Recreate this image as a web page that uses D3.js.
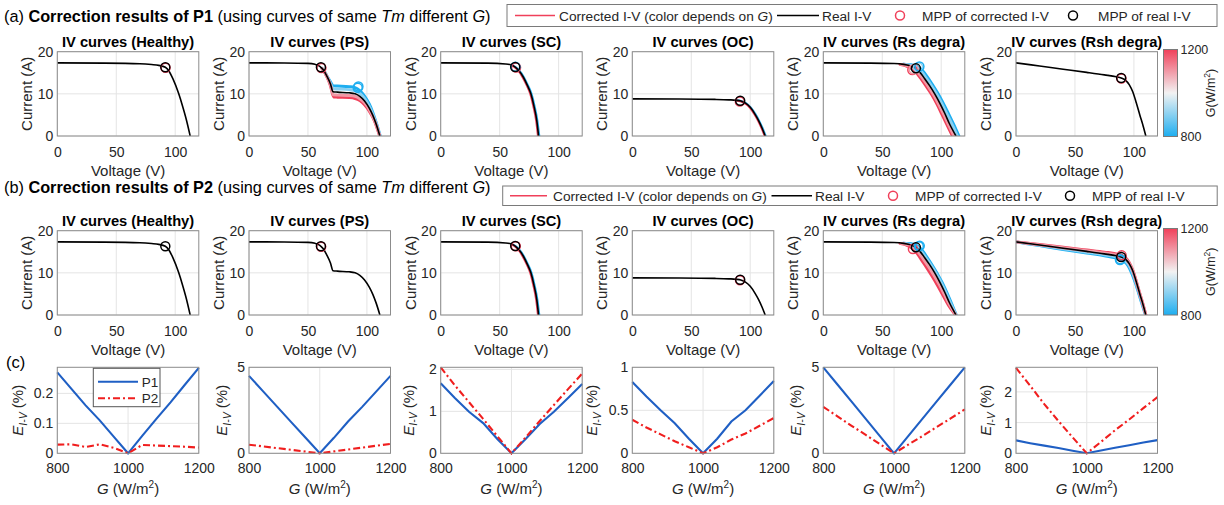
<!DOCTYPE html>
<html><head><meta charset="utf-8">
<script src="https://cdn.jsdelivr.net/npm/d3@7"></script>
<style>
body{margin:0;background:#fff;}
svg{display:block;font-family:"Liberation Sans",Arial,Helvetica,sans-serif;}
text{white-space:pre;}
</style></head><body>
<svg id="c" width="1224" height="505"></svg>
<script>
// ---------------- DATA ----------------
const voltTicks = [0, 50, 100];
const curTicks = [0, 10, 20];
const gTicks = [800, 1000, 1200];
const cbTicks = [800, 1200];
const faults = ["Healthy", "PS", "SC", "OC", "Rs degra", "Rsh degra"];

// real I-V curves [V, I]
const realHealthy = [[0,17.35],[40,17.3],[70,17.15],[80,16.95],[86,16.75],[91.6,16.3],[94.5,15.5],[98,13.6],[103,10],[106,7.3],[109.5,3.8],[112.7,0]];
const realPS = [[0,17.35],[30,17.32],[50,17.22],[56,17.0],[59,16.7],[61,16.3],[63,15.7],[66,14.2],[69,12.4],[71.3,10.5],[75,10.4],[85,10.25],[90,10.0],[94,9.4],[98,8.3],[102,6.6],[105,4.9],[108,2.7],[111,0]];
const realSC = [[0,17.35],[40,17.3],[55,17.1],[60,16.85],[63.2,16.35],[66,15.6],[70,14.0],[73.5,12.0],[76.5,10],[79,7.2],[81.5,3.6],[83,0]];
const realOC = [[0,8.8],[40,8.77],[70,8.68],[82,8.58],[88,8.48],[92,8.3],[96,7.8],[100,6.8],[104,5.2],[107,3.7],[110,1.9],[112.7,0]];
const realRs = [[0,17.35],[40,17.3],[60,17.2],[68,17.0],[73,16.7],[78.5,16.05],[82,15.1],[86,13.6],[90,12.0],[94.5,10],[99,7.7],[103,5.4],[107,2.9],[112.5,0]];
const realRsh = [[0,17.35],[20,16.6],[40,15.85],[60,15.1],[75,14.5],[85,14.05],[89.2,13.75],[93,13.2],[96,12.2],[99,10.5],[102,7.9],[105,5.0],[108,2.2],[110.1,0]];

// corrected I-V curves (P1) at several G (only where they leave the real curve)
const psA800 = [[62,16.05],[64,15.3],[66,14.3],[69,12.9],[71.5,11.9],[75,11.85],[85,11.7],[90,11.5],[94,10.8],[98,9.5],[102,7.6],[105,5.6],[108,3.1],[111.3,0]];
const psA900 = [[62,16.05],[64,15.3],[66,14.25],[69,12.6],[71.4,11.2],[75,11.15],[85,11.0],[90,10.75],[94,10.1],[98,8.9],[102,7.1],[105,5.2],[108,2.9],[111.2,0]];
const psA1100 = [[62,16.0],[64,15.2],[66,14.15],[69,12.2],[71.6,9.75],[75,9.7],[85,9.6],[90,9.4],[94,8.85],[98,7.85],[102,6.25],[105,4.6],[108,2.55],[110.9,0]];
const psA1200 = [[62,15.95],[64,15.15],[66,14.1],[69,12.0],[71.8,9.25],[75,9.2],[85,9.1],[90,8.9],[94,8.4],[98,7.4],[102,5.9],[105,4.4],[108,2.4],[110.8,0]];
const scA800 = [[60,16.87],[63.5,16.35],[66.4,15.6],[70.4,14.0],[74,12.0],[77,10],[79.5,7.2],[82,3.6],[83.6,0]];
const scA1200 = [[60,16.8],[63,16.25],[65.8,15.5],[69.6,13.9],[73,12.0],[76,10],[78.5,7.2],[81,3.6],[82.5,0]];
const ocA800 = [[88,8.5],[92.3,8.32],[96.3,7.82],[100.4,6.8],[104.4,5.2],[107.4,3.7],[110.4,1.9],[113.1,0]];
const ocA1200 = [[88,8.42],[91.7,8.22],[95.6,7.72],[99.6,6.75],[103.6,5.15],[106.6,3.65],[109.6,1.85],[112.3,0]];
const rsA800 = [[68,17.05],[72,16.98],[76,16.8],[81,16.3],[84.5,15.4],[88.5,13.9],[92.5,12.2],[97,10.2],[101.5,7.9],[106,5.4],[110.5,2.8],[115,0]];
const rsA900 = [[68,17.02],[71,16.95],[74.5,16.75],[79.8,16.2],[83.3,15.25],[87.3,13.75],[91.3,12.1],[95.8,10.1],[100.3,7.8],[104.5,5.4],[109,2.85],[113.7,0]];
const rsA1100 = [[66,17.0],[69,16.85],[72,16.6],[77.2,15.9],[80.8,14.9],[84.8,13.4],[88.8,11.8],[93.2,9.9],[97.7,7.6],[101.8,5.3],[105.8,2.9],[110.8,0]];
const rsA1200 = [[65,16.98],[68,16.8],[71,16.5],[76,15.8],[79.5,14.8],[83.5,13.3],[87.5,11.7],[92,9.8],[96.5,7.5],[100.5,5.2],[104.5,2.9],[109.5,0]];

// corrected I-V curves (P2)
const rsB800 = [[68,17.05],[72,16.97],[76,16.8],[80.5,16.3],[84,15.3],[88,13.7],[92,12.0],[96.5,9.9],[101,7.6],[105,5.2],[109,2.6],[112.8,0]];
const rsB900 = [[68,17.02],[71,16.93],[74.5,16.72],[79.5,16.15],[83,15.15],[87,13.6],[91,11.95],[95.5,9.95],[100,7.65],[104,5.3],[108,2.75],[112.7,0]];
const rsB1100 = [[66,17.0],[69,16.85],[72.5,16.55],[77.5,15.8],[81,14.75],[85,13.2],[89,11.55],[93.5,9.55],[98.5,7.15],[102.5,4.95],[107,2.45],[112.4,0]];
const rsB1200 = [[65,16.98],[68,16.8],[71,16.5],[76,15.7],[79.5,14.6],[83.5,12.95],[87.5,11.3],[92,9.3],[97,6.95],[101,4.9],[106,2.4],[112.1,0]];
const rshB800 = [[0,17.35],[20,16.45],[40,15.55],[60,14.7],[75,14.05],[85,13.5],[88.5,13.2],[92,12.65],[95,11.7],[98,10.0],[101.5,7.4],[104.5,4.7],[107.5,2.0],[109.8,0]];
const rshB900 = [[0,17.35],[20,16.52],[40,15.7],[60,14.9],[75,14.28],[85,13.78],[88.8,13.45],[92.5,12.9],[95.5,11.9],[98.5,10.2],[101.8,7.6],[104.8,4.8],[107.8,2.1],[110,0]];
const rshB1100 = [[0,17.35],[20,16.65],[40,15.95],[60,15.25],[75,14.7],[85,14.28],[89.3,13.95],[93,13.35],[96,12.3],[99,10.55],[102,7.95],[105,5.05],[108,2.25],[110.1,0]];
const rshB1200 = [[0,17.35],[20,16.72],[40,16.08],[60,15.42],[75,14.92],[85,14.52],[89.5,14.18],[93,13.55],[96,12.45],[99,10.65],[102,8.05],[105,5.1],[108,2.3],[110.2,0]];

// maximum power points [V, I] and corrected MPPs [V, I, G]
const mppReal = [[91.6,16.3],[61,16.3],[63.2,16.35],[91.5,8.35],[78.5,16.05],[89.2,13.75]];
const mppCorrA = [[[91.8,16.2,1200]],[[61.4,16.15,1200],[92.2,11.45,800],[92.8,11.75,800]],[[63.9,16.25,1200],[63.4,16.4,800]],[[91.2,8.2,1200]],[[75.5,15.65,1200],[76.6,15.85,1100],[80.4,16.3,900],[81.5,16.5,800]],[[89.4,13.65,1200]]];
const mppCorrB = [[],[[61.2,16.2,1200]],[[63.7,16.3,1200]],[[91.3,8.25,1200]],[[76,15.65,1200],[81,16.3,800],[81.8,16.4,800]],[[88.5,13.25,800],[88.2,13.05,800],[89.6,14.15,1200]]];

// error of corrected I-V vs G (%)
const gGrid = [800,840,880,920,960,1000,1040,1080,1120,1160,1200];
const errP1 = [
  [0.27,0.215,0.16,0.11,0.055,0,0.058,0.115,0.17,0.228,0.285],
  [4.5,3.6,2.7,1.8,0.9,0,0.9,1.85,2.7,3.6,4.5],
  [1.67,1.32,0.99,0.72,0.34,0,0.34,0.7,0.99,1.32,1.65],
  [0.83,0.66,0.5,0.35,0.17,0,0.17,0.37,0.5,0.67,0.84],
  [5.0,4.0,3.0,2.0,1.0,0,1.0,2.0,3.0,4.0,5.0],
  [0.42,0.33,0.25,0.17,0.08,0,0.09,0.18,0.26,0.35,0.43]
];
const errP2 = [
  [0.029,0.03,0.021,0.03,0.018,0,0.028,0.026,0.024,0.022,0.019],
  [0.5,0.4,0.3,0.2,0.1,0,0.11,0.22,0.33,0.44,0.55],
  [2.05,1.62,1.22,0.82,0.41,0,0.38,0.77,1.15,1.53,1.9],
  [0.39,0.3,0.22,0.14,0.07,0,0.07,0.16,0.23,0.32,0.41],
  [2.7,2.15,1.6,1.07,0.53,0,0.5,1.0,1.52,2.03,2.55],
  [2.78,2.2,1.6,1.05,0.52,0,0.37,0.75,1.1,1.47,1.83]
];
const eTicks = [[0,0.1,0.2],[0,5],[0,1,2],[0,0.5,1],[0,5],[0,1,2]];
const eMax = [0.287,5,2.05,1,5,2.8];

// ---------------- DRAWING ----------------
const svg = d3.select("#c");
const TXT = "#262626", FRAME = "#8c8c8c", GRID = "#e4e4e4";
const colX = [57.3, 249, 440.7, 632.3, 823.3, 1016], PW = 141.5;
const gColor = d3.scaleLinear().domain([800,1000,1200]).range(["#1eaef0","#f2f2f2","#f0405a"]);
const RED = "#f0405a";
const fmtInt = d3.format("d");

const realCurves = [realHealthy, realPS, realSC, realOC, realRs, realRsh];
const corrA = [[], [[800,psA800],[900,psA900],[1200,psA1200],[1100,psA1100]], [[800,scA800],[1200,scA1200]], [[800,ocA800],[1200,ocA1200]], [[800,rsA800],[900,rsA900],[1200,rsA1200],[1100,rsA1100]], []];
const corrB = [[], [], [[800,scA800],[1200,scA1200]], [], [[800,rsB800],[900,rsB900],[1200,rsB1200],[1100,rsB1100]], [[800,rshB800],[900,rshB900],[1200,rshB1200],[1100,rshB1100]]];

function styleAxis(g, size) {
  g.attr("font-size", size).attr("font-family", null);
  g.select(".domain").remove();
  g.selectAll("text").attr("fill", TXT);
}

function ivPanel(top, H, i, corr, mppC) {
  const x0 = colX[i];
  const x = d3.scaleLinear().domain([0,120]).range([x0, x0 + PW]);
  const y = d3.scaleLinear().domain([0,20]).range([top + H, top]);
  const g = svg.append("g");
  const clipId = `clip${Math.round(top)}_${i}`;
  svg.append("clipPath").attr("id", clipId).append("rect")
    .attr("x", x0).attr("y", top).attr("width", PW).attr("height", H);
  g.append("rect").attr("x", x0).attr("y", top).attr("width", PW).attr("height", H).attr("fill", "#fff");
  g.append("g").selectAll("line").data(voltTicks).join("line")
    .attr("x1", d => x(d)).attr("x2", d => x(d)).attr("y1", top).attr("y2", top + H)
    .attr("stroke", GRID);
  g.append("g").selectAll("line").data(curTicks).join("line")
    .attr("y1", d => y(d)).attr("y2", d => y(d)).attr("x1", x0).attr("x2", x0 + PW)
    .attr("stroke", GRID);
  const line = d3.line().x(d => x(d[0])).y(d => y(d[1])).curve(d3.curveMonotoneX);
  const plot = g.append("g").attr("clip-path", `url(#${clipId})`);
  corr.forEach(([gv, pts]) => {
    plot.append("path").attr("d", line(pts)).attr("fill", "none")
      .attr("stroke", gColor(gv)).attr("stroke-width", corr.length > 2 ? 2.9 : 2.1)
      .attr("stroke-linejoin", "round").attr("stroke-linecap", "round");
  });
  plot.append("path").attr("d", line(realCurves[i])).attr("fill", "none")
    .attr("stroke", "#000").attr("stroke-width", 1.6);
  mppC.forEach(m => {
    g.append("circle").attr("cx", x(m[0])).attr("cy", y(m[1])).attr("r", 4.5)
      .attr("fill", "none").attr("stroke", gColor(m[2])).attr("stroke-width", 1.5);
  });
  g.append("circle").attr("cx", x(mppReal[i][0])).attr("cy", y(mppReal[i][1])).attr("r", 4.5)
    .attr("fill", "none").attr("stroke", "#000").attr("stroke-width", 1.5);
  g.append("rect").attr("x", x0).attr("y", top).attr("width", PW).attr("height", H)
    .attr("fill", "none").attr("stroke", FRAME);
  const ax = g.append("g").attr("transform", `translate(0,${top + H})`)
    .call(d3.axisBottom(x).tickValues(voltTicks).tickFormat(fmtInt).tickSize(0).tickPadding(11));
  styleAxis(ax, 14);
  const ay = g.append("g").attr("transform", `translate(${x0},0)`)
    .call(d3.axisLeft(y).tickValues(curTicks).tickFormat(fmtInt).tickSize(0).tickPadding(4));
  styleAxis(ay, 14);
  g.append("text").attr("x", x0 + PW / 2).attr("y", top + H + 39.5).attr("text-anchor", "middle")
    .attr("font-size", 15).attr("fill", TXT).text("Voltage (V)");
  g.append("text").attr("transform", `translate(${x0 - 25},${top + H / 2}) rotate(-90)`)
    .attr("text-anchor", "middle").attr("font-size", 15).attr("fill", TXT).text("Current (A)");
  g.append("text").attr("x", x0 + PW / 2).attr("y", top - 4.7).attr("text-anchor", "middle")
    .attr("font-size", 14.7).attr("font-weight", "bold").attr("fill", "#000")
    .text(`IV curves (${faults[i]})`);
}

function header(yb, label, pName) {
  const t = svg.append("text").attr("x", 4).attr("y", yb).attr("font-size", 16.3).attr("fill", "#000");
  t.append("tspan").text(`(${label}) `);
  t.append("tspan").attr("font-weight", "bold").text(`Correction results of ${pName}`);
  t.append("tspan").text(" (using curves of same ");
  t.append("tspan").attr("font-style", "italic").text("Tm");
  t.append("tspan").text(" different ");
  t.append("tspan").attr("font-style", "italic").text("G");
  t.append("tspan").text(")");
}

function topLegend(L) {
  svg.append("rect").attr("x", L.x).attr("y", L.y).attr("width", L.w).attr("height", L.h)
    .attr("fill", "#fff").attr("stroke", "#7a7a7a");
  const cy = L.y + L.h / 2, tb = cy + 5, fs = 13.7;
  svg.append("line").attr("x1", L.l1[0]).attr("x2", L.l1[1]).attr("y1", cy).attr("y2", cy)
    .attr("stroke", RED).attr("stroke-width", 1.5);
  const t1 = svg.append("text").attr("x", L.t1).attr("y", tb).attr("font-size", fs).attr("fill", TXT);
  t1.append("tspan").text("Corrected I-V (color depends on ");
  t1.append("tspan").attr("font-style", "italic").text("G");
  t1.append("tspan").text(")");
  svg.append("line").attr("x1", L.l2[0]).attr("x2", L.l2[1]).attr("y1", cy).attr("y2", cy)
    .attr("stroke", "#000").attr("stroke-width", 1.5);
  svg.append("text").attr("x", L.t2).attr("y", tb).attr("font-size", fs).attr("fill", TXT).text("Real I-V");
  svg.append("circle").attr("cx", L.m1).attr("cy", cy).attr("r", 4.5).attr("fill", "none")
    .attr("stroke", RED).attr("stroke-width", 1.5);
  svg.append("text").attr("x", L.t3).attr("y", tb).attr("font-size", fs).attr("fill", TXT).text("MPP of corrected I-V");
  svg.append("circle").attr("cx", L.m2).attr("cy", cy).attr("r", 4.5).attr("fill", "none")
    .attr("stroke", "#000").attr("stroke-width", 1.5);
  svg.append("text").attr("x", L.t4).attr("y", tb).attr("font-size", fs).attr("fill", TXT).text("MPP of real I-V");
}

// gradient for colorbar
const defs = svg.append("defs");
const grad = defs.append("linearGradient").attr("id", "cbGrad")
  .attr("x1", 0).attr("y1", 1).attr("x2", 0).attr("y2", 0);
gTicks.forEach((gv, k) => grad.append("stop").attr("offset", k / (gTicks.length - 1)).attr("stop-color", gColor(gv)));

function colorbar(top, bottom) {
  const x0 = 1163.5, w = 14;
  const s = d3.scaleLinear().domain([800, 1200]).range([bottom, top]);
  svg.append("rect").attr("x", x0).attr("y", top).attr("width", w).attr("height", bottom - top)
    .attr("fill", "url(#cbGrad)").attr("stroke", "#7a7a7a");
  const ax = svg.append("g").attr("transform", `translate(${x0 + w},0)`)
    .call(d3.axisRight(s).tickValues(cbTicks).tickFormat(fmtInt).tickSize(0).tickPadding(3));
  styleAxis(ax, 12.5);
  const t = svg.append("text").attr("transform", `translate(${1214.5},${(top + bottom) / 2}) rotate(-90)`)
    .attr("text-anchor", "middle").attr("font-size", 12.5).attr("fill", TXT);
  t.append("tspan").text("G(W/m");
  t.append("tspan").attr("font-size", 8.5).attr("dy", -5).text("2");
  t.append("tspan").attr("dy", 5).text(")");
}

function errPanel(i) {
  const top = 367.3, H = 86, x0 = colX[i];
  const x = d3.scaleLinear().domain([800, 1200]).range([x0, x0 + PW]);
  const y = d3.scaleLinear().domain([0, eMax[i]]).range([top + H, top]);
  const g = svg.append("g");
  g.append("rect").attr("x", x0).attr("y", top).attr("width", PW).attr("height", H).attr("fill", "#fff");
  g.append("g").selectAll("line").data(gTicks).join("line")
    .attr("x1", d => x(d)).attr("x2", d => x(d)).attr("y1", top).attr("y2", top + H).attr("stroke", GRID);
  g.append("g").selectAll("line").data(eTicks[i]).join("line")
    .attr("y1", d => y(d)).attr("y2", d => y(d)).attr("x1", x0).attr("x2", x0 + PW).attr("stroke", GRID);
  const line = d3.line().x((d, k) => x(gGrid[k])).y(d => y(d));
  g.append("path").attr("d", line(errP1[i])).attr("fill", "none").attr("stroke", "#1f5fc4").attr("stroke-width", 2.1);
  g.append("path").attr("d", line(errP2[i])).attr("fill", "none").attr("stroke", "#f01e1e")
    .attr("stroke-width", 2.1).attr("stroke-dasharray", "7,3,2,3");
  g.append("rect").attr("x", x0).attr("y", top).attr("width", PW).attr("height", H)
    .attr("fill", "none").attr("stroke", FRAME);
  const ax = g.append("g").attr("transform", `translate(0,${top + H})`)
    .call(d3.axisBottom(x).tickValues(gTicks).tickFormat(fmtInt).tickSize(0).tickPadding(10));
  styleAxis(ax, 14);
  const ay = g.append("g").attr("transform", `translate(${x0},0)`)
    .call(d3.axisLeft(y).tickValues(eTicks[i]).tickFormat(d => String(d)).tickSize(0).tickPadding(4));
  styleAxis(ay, 14);
  const xl = g.append("text").attr("x", x0 + PW / 2).attr("y", top + H + 40.5).attr("text-anchor", "middle")
    .attr("font-size", 15).attr("fill", TXT);
  xl.append("tspan").attr("font-style", "italic").text("G");
  xl.append("tspan").text(" (W/m");
  xl.append("tspan").attr("font-size", 10).attr("dy", -6).text("2");
  xl.append("tspan").attr("dy", 6).text(")");
  const yOff = [-39, -27, -32, -40, -27, -30][i];
  const yl = g.append("text").attr("transform", `translate(${x0 + yOff + 5},${top + H / 2}) rotate(-90)`)
    .attr("text-anchor", "middle").attr("font-size", 15).attr("fill", TXT);
  yl.append("tspan").attr("font-style", "italic").text("E");
  yl.append("tspan").attr("font-style", "italic").attr("font-size", 10.5).attr("dy", 3.5).text("I-V");
  yl.append("tspan").attr("dy", -3.5).text(" (%)");
}

// headers & legends
header(22, "a", "P1");
header(192.5, "b", "P2");
topLegend({x: 507, y: 4.5, w: 710, h: 22, l1: [515, 555], t1: 559, l2: [777, 819], t2: 822, m1: 900, t3: 922, m2: 1073, t4: 1098});
topLegend({x: 502.7, y: 186, w: 714.5, h: 19.5, l1: [510, 547], t1: 553, l2: [771.5, 812], t2: 815, m1: 893, t3: 915, m2: 1070, t4: 1092});

faults.forEach((f, i) => ivPanel(51.7, 84.3, i, corrA[i], mppCorrA[i]));
faults.forEach((f, i) => ivPanel(230.7, 84.3, i, corrB[i], mppCorrB[i]));
colorbar(49.5, 136.5);
colorbar(228.5, 315);

svg.append("text").attr("x", 6).attr("y", 368).attr("font-size", 16.5).attr("fill", "#000").text("(c)");
faults.forEach((f, i) => errPanel(i));

// legend in first error panel
const lg = svg.append("g");
lg.append("rect").attr("x", 93.3).attr("y", 368.3).attr("width", 66.7).attr("height", 38.4)
  .attr("fill", "#fff").attr("stroke", "#555");
lg.append("line").attr("x1", 98).attr("x2", 138).attr("y1", 381.7).attr("y2", 381.7)
  .attr("stroke", "#1f5fc4").attr("stroke-width", 2.1);
lg.append("text").attr("x", 141.7).attr("y", 386.5).attr("font-size", 13.5).attr("fill", TXT).text("P1");
lg.append("line").attr("x1", 98).attr("x2", 138).attr("y1", 398.3).attr("y2", 398.3)
  .attr("stroke", "#f01e1e").attr("stroke-width", 2.1).attr("stroke-dasharray", "7,3,2,3");
lg.append("text").attr("x", 141.7).attr("y", 403).attr("font-size", 13.5).attr("fill", TXT).text("P2");
</script>
</body></html>
